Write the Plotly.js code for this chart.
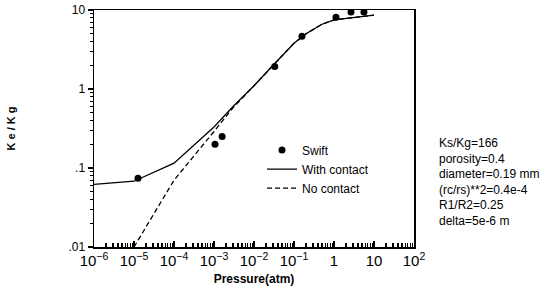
<!DOCTYPE html>
<html>
<head>
<meta charset="utf-8">
<script src="https://cdn.plot.ly/plotly-3.0.1.min.js"></script>
<style>html,body{margin:0;padding:0;background:#fff;}#chart{width:559px;height:296px;}</style>
</head>
<body>
<div id="chart"></div>
<script>
// Swift measurements
const swiftP = [1.26e-5, 1.06e-3, 1.6e-3, 0.033, 0.158, 1.12, 2.66, 5.6];
const swiftK = [0.074, 0.2, 0.25, 1.93, 4.66, 8.1, 9.4, 9.4];
// Model with contact
const withP = [1e-6, 1e-5, 1e-4, 1e-3, 3e-3, 1e-2, 3e-2, 0.1, 0.2, 0.5, 1, 3, 10];
const withK = [0.062, 0.068, 0.115, 0.33, 0.6, 1.1, 2.0, 3.8, 5.0, 6.6, 7.5, 8.0, 8.6];
// Model without contact
const noP = [1e-5, 1e-4, 1e-3, 3e-3, 1e-2, 3e-2, 0.1, 0.2, 0.5, 1, 3, 10];
const noK = [0.01, 0.07, 0.29, 0.58, 1.1, 2.0, 3.8, 5.0, 6.6, 7.5, 8.0, 8.6];
// Axis tick labels
const yTickVals = [0.01, 0.1, 1, 10];
const yTickText = ['.01', '.1', '1', '10'];
const xDecades = [-6, -5, -4, -3, -2, -1, 0, 1];
const yDecades = [-2, -1, 0];
const minorDigits = [2, 3, 4, 5, 6, 7, 8, 9];
// Parameter notes
const notes = ['Ks/Kg=166', 'porosity=0.4', 'diameter=0.19 mm', '(rc/rs)**2=0.4e-4', 'R1/R2=0.25', 'delta=5e-6 m'];

const xMinor = [];
xDecades.forEach(d => minorDigits.forEach(m => xMinor.push(m * Math.pow(10, d))));
const yMinor = [];
yDecades.forEach(d => minorDigits.forEach(m => yMinor.push(m * Math.pow(10, d))));

const FONT = 'Liberation Sans, Arial, sans-serif';
const traces = [
  {x: swiftP, y: swiftK, name: 'Swift', mode: 'markers', type: 'scatter',
   marker: {color: '#000', size: 7}},
  {x: withP, y: withK, name: 'With contact', mode: 'lines', type: 'scatter',
   line: {color: '#000', width: 1.3}},
  {x: noP, y: noK, name: 'No contact', mode: 'lines', type: 'scatter',
   line: {color: '#000', width: 1.3, dash: '5px,3px'}},
  {x: [1e-6], y: [0.01], xaxis: 'x2', yaxis: 'y2', mode: 'markers', showlegend: false,
   hoverinfo: 'skip', marker: {opacity: 0}}
];
const layout = {
  width: 559, height: 296,
  margin: {l: 94, r: 145, t: 10, b: 49},
  paper_bgcolor: '#fff', plot_bgcolor: '#fff',
  font: {family: FONT, size: 12, color: '#000'},
  showlegend: true,
  legend: {x: 0.525, y: 0.47, xanchor: 'left', yanchor: 'top', bgcolor: 'rgba(0,0,0,0)',
           font: {size: 12}, itemwidth: 30, tracegroupgap: 0},
  xaxis: {type: 'log', range: [-6, 2], dtick: 1, exponentformat: 'power',
          showline: true, mirror: true, linecolor: '#000', linewidth: 1.5,
          ticks: 'inside', ticklen: 6, tickwidth: 1.5, tickcolor: '#000', showgrid: false, zeroline: false,
          tickfont: {size: 12},
          title: {text: '<b>Pressure(atm)</b>', font: {size: 12}, standoff: 6}},
  yaxis: {type: 'log', range: [-2, 1], tickvals: yTickVals, ticktext: yTickText,
          showline: true, mirror: true, linecolor: '#000', linewidth: 1.5,
          ticks: 'outside', ticklen: 5, tickwidth: 1.5, tickcolor: '#000', showgrid: false, zeroline: false,
          tickfont: {size: 12},
          title: {text: '<b>K e / K g</b>', font: {size: 11}, standoff: 50}},
  xaxis2: {type: 'log', range: [-6, 2], overlaying: 'x', anchor: 'y2', side: 'bottom',
           tickmode: 'array', tickvals: xMinor, showticklabels: false,
           ticks: 'inside', ticklen: 4, tickwidth: 1.2, tickcolor: '#000', showgrid: false, zeroline: false, showline: false},
  yaxis2: {type: 'log', range: [-2, 1], overlaying: 'y', anchor: 'x2', side: 'left',
           tickmode: 'array', tickvals: yMinor, showticklabels: false,
           ticks: 'outside', ticklen: 3, tickwidth: 1.2, tickcolor: '#000', showgrid: false, zeroline: false, showline: false},
  annotations: [{
    xref: 'paper', yref: 'paper', x: 1.072, y: 0.477, xanchor: 'left', yanchor: 'top',
    align: 'left', showarrow: false, text: notes.join('<br>'), font: {size: 12}
  }]
};
Plotly.newPlot('chart', traces, layout, {displayModeBar: false, staticPlot: true});
</script>
</body>
</html>
